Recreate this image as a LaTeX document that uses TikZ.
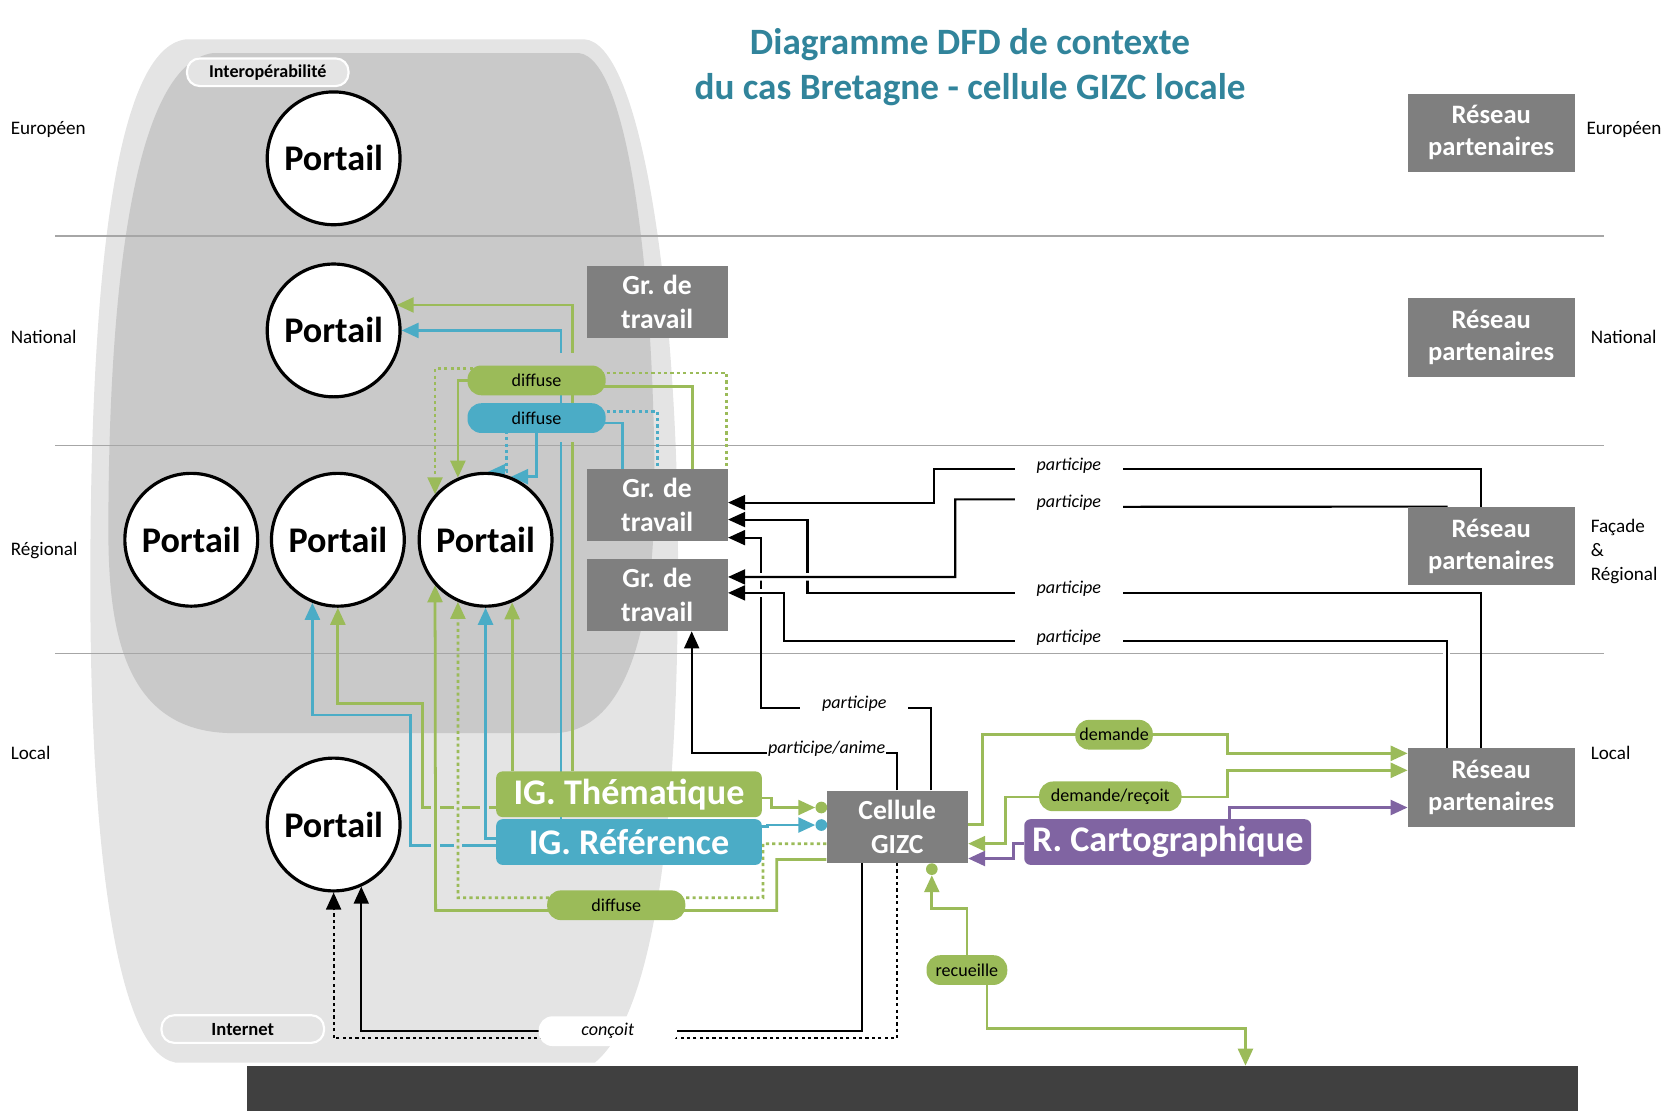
\documentclass[tikz,border=0pt]{standalone}
\usepackage{fontspec}
\setmainfont{Carlito}
\usetikzlibrary{arrows.meta}
\definecolor{igc}{HTML}{9BBB59}
\definecolor{ibc}{HTML}{4BACC6}
\definecolor{ipc}{HTML}{8064A2}
\definecolor{boxg}{HTML}{7F7F7F}
\definecolor{titlec}{HTML}{31849B}
\definecolor{outerg}{HTML}{E4E4E4}
\definecolor{innerg}{HTML}{C9C9C9}
\definecolor{barg}{HTML}{404040}
\definecolor{lvlg}{HTML}{A6A6A6}
\pgfdeclarelayer{back}
\pgfdeclarelayer{edges}
\pgfsetlayers{back,edges,main}
\newcommand\fsz[2]{\fontsize{#1}{#2}\selectfont}
\begin{document}
\begin{tikzpicture}[x=1pt,y=-1pt,
  portail/.style={circle,draw=black,line width=3pt,fill=white,minimum size=125pt,inner sep=0pt,font=\bfseries\fsz{34}{40}},
  gbox/.style={fill=boxg,text=white,align=center,inner sep=0pt,minimum width=133pt,minimum height=68pt,font=\bfseries\fsz{26}{32}},
  rbox/.style={fill=boxg,text=white,align=center,inner sep=0pt,minimum width=157pt,minimum height=74pt,font=\bfseries\fsz{25}{30}},
  igbox/.style={rounded corners=6pt,text=white,inner sep=0pt,minimum height=43pt,font=\bfseries\fsz{34}{40}},
  pill/.style={rounded corners=13pt,fill=igc,inner sep=0pt,minimum height=28pt,font=\fsz{17}{20}},
  plab/.style={fill=white,inner sep=0pt,minimum height=22pt,font=\itshape\fsz{17}{20}},
  tag/.style={rounded corners=12pt,draw=white,line width=2pt,fill=outerg,inner sep=0pt,minimum height=26pt,font=\bfseries\fsz{17}{20}},
  lvl/.style={anchor=west,font=\fsz{18}{23},align=left,inner sep=0pt},
  dott/.style={circle,inner sep=0pt,minimum size=11pt},
  gl/.style={draw=igc,line width=2.6pt},
  bl/.style={draw=ibc,line width=2.6pt},
  pl/.style={draw=ipc,line width=2.6pt},
  kl/.style={draw=black,line width=2pt},
  dotl/.style={dash pattern=on 3pt off 3pt},
  ctip/.style={-{Triangle[length=16pt,width=14pt]}},
  cboth/.style={{Triangle[length=16pt,width=14pt]}-{Triangle[length=16pt,width=14pt]}},
  ktip/.style={-{Triangle[length=16pt,width=14pt]}},
  halo/.style={preaction={draw=white,line width=7pt,-}}
]
\useasboundingbox (0,0) rectangle (1568,1045);

% ---------- background ----------
\begin{pgfonlayer}{back}
\fill[outerg] (175,37) -- (550,37) .. controls (600,40) and (635,250) .. (638,500)
  .. controls (640,750) and (620,950) .. (560,1000) -- (165,1000)
  .. controls (110,990) and (85,800) .. (85,550) .. controls (85,250) and (110,45) .. (175,37) -- cycle;
\fill[innerg] (200,50) -- (545,50) .. controls (590,55) and (615,250) .. (616,450)
  .. controls (617,560) and (600,690) .. (520,690) -- (220,690)
  .. controls (120,690) and (102,600) .. (102,500) .. controls (102,250) and (130,60) .. (200,50) -- cycle;
\draw[lvlg,line width=1.3pt] (52,222) -- (1510,222);
\draw[lvlg,line width=1.3pt] (52,419) -- (1510,419);
\draw[lvlg,line width=1.3pt] (52,615) -- (1510,615);
\end{pgfonlayer}

% ---------- nodes ----------
\node[font=\bfseries\fsz{35}{42},text=titlec,align=center] (title) at (913,63) {Diagramme DFD de contexte\\du cas Bretagne - cellule GIZC locale};

\node[lvl] (lvEUl) at (10,122) {Européen};
\node[lvl] (lvNAl) at (10,317) {National};
\node[lvl] (lvREl) at (10,518) {Régional};
\node[lvl] (lvLOl) at (10,709) {Local};
\node[lvl] (lvEUr) at (1493,122) {Européen};
\node[lvl] (lvNAr) at (1497,317) {National};
\node[lvl] (lvREr) at (1497,519) {Façade\\\&\\Régional};
\node[lvl] (lvLOr) at (1497,709) {Local};

\node[tag,minimum width=152pt] (interop) at (252,68) {Interopérabilité};
\node[tag,minimum width=153pt,font=\bfseries\fsz{17.5}{20}] (inet) at (228.5,968.5) {Internet};

\node[portail] (pEU) at (314,149) {Portail};
\node[portail] (pNA) at (314,311) {Portail};
\node[portail] (pR1) at (180,508) {Portail};
\node[portail] (pR2) at (318,508) {Portail};
\node[portail] (pR3) at (457,508) {Portail};
\node[portail] (pLO) at (314,776) {Portail};

\node[gbox] (grNA) at (618.5,284) {Gr. de\\travail};
\node[gbox] (grA) at (618.5,475.5) {Gr. de\\travail};
\node[gbox] (grB) at (618.5,560) {Gr. de\\travail};
\node[gbox] (cell) at (844.5,778) {Cellule\\GIZC};

\node[rbox] (rEU) at (1403.5,125) {Réseau\\partenaires};
\node[rbox] (rNA) at (1403.5,317.5) {Réseau\\partenaires};
\node[rbox] (rRE) at (1403.5,514) {Réseau\\partenaires};
\node[rbox] (rLO) at (1403.5,741) {Réseau\\partenaires};

\node[igbox,fill=igc,minimum width=250pt] (igt) at (592,747.5) {IG. Thématique};
\node[igbox,fill=ibc,minimum width=250pt] (igr) at (592,792.5) {IG. Référence};
\node[igbox,fill=ipc,minimum width=270pt] (rcar) at (1099,792.5) {R. Cartographique};

\node[pill,fill=igc,minimum width=130pt] (dG) at (505,358) {diffuse};
\node[pill,fill=ibc,minimum width=130pt] (dB) at (505,393.5) {diffuse};
\node[pill,fill=igc,minimum width=130pt] (dL) at (580,852) {diffuse};
\node[pill,fill=igc,minimum width=73pt] (dem) at (1048.5,691.5) {demande};
\node[pill,fill=igc,minimum width=134pt] (demr) at (1045,749.5) {demande/reçoit};
\node[pill,fill=igc,minimum width=76pt] (rec) at (910,913) {recueille};
\node[pill,fill=white,minimum width=130pt,font=\itshape\fsz{17}{20}] (conc) at (572,970.5) {conçoit};

\node[dott,fill=igc] (gdot) at (773,760) {};
\node[dott,fill=ibc] (bdot) at (773,776.5) {};
\node[dott,fill=igc] (rdot) at (877,818) {};

\node[plab,minimum width=101pt] (l1) at (1006,438) {participe};
\node[plab,minimum width=101pt] (l2) at (1006,473) {participe};
\node[plab,minimum width=101pt] (l3) at (1006,554) {participe};
\node[plab,minimum width=101pt] (l4) at (1006,600) {participe};
\node[plab,minimum width=102pt] (l5) at (804,662) {participe};
\node[plab,inner xsep=1pt] (l6) at (778,705) {participe/anime};

\node[fill=barg,inner sep=0pt,minimum width=1253pt,minimum height=42pt,anchor=north west] (bar) at (232,1003) {};

% ---------- connectors ----------
\begin{pgfonlayer}{edges}
% IG -> national portal (behind pills)
\draw[gl,ctip] ([xshift=-53pt]igt.north) |- (pNA.22);
\draw[bl,ctip] ([xshift=-64pt]igr.north) |- (pNA.east);
\fill[innerg] (523,332) rectangle (544,344);
\fill[innerg] (523,407) rectangle (544,416);
% diffuse (green, top)
\draw[gl,ctip] (dG.center) -| (pR3.114);
\draw[gl,dotl,ctip] ([yshift=11pt]dG.center) -| (pR3.138);
\draw[gl,dotl] ([yshift=7pt]dG.center) -| ([xshift=65.5pt]grA.north);
\draw[gl] ([yshift=-6pt]dG.center) -| ([xshift=33.5pt]grA.north);
% diffuse (blue)
\draw[bl,dotl] ([yshift=6.5pt]dB.center) -| (grA.north);
\draw[bl] ([yshift=-4.5pt]dB.center) -| ([xshift=-32.5pt]grA.north);
\draw[bl,dotl,ctip] ([xshift=-28pt]dB.center) |- (pR3.88);
\draw[bl,ctip] (dB.center) |- (pR3.68);
% IG -> regional portals
\draw[gl,ctip] (pR3.293 |- igt.north) -- (pR3.293);
\draw[gl,ctip] ([yshift=-12.5pt]igt.west) -| (398,662) -| (pR2.south);
\draw[bl,ctip] ([yshift=-3.5pt]igr.west) -| (386,673) -| (pR2.248);
\foreach \px/\py in {410/760,431/760,456/760,410/796,431/796}
  \fill[outerg] (\px-4,\py-3.5) rectangle (\px+4,\py+3.5);
\draw[bl,ctip] ([yshift=3.5pt]igr.west) -| (pR3.south);
% cellule -> diffuse (bottom) -> portal R3
\draw[gl,ctip] ([yshift=-31pt]cell.west) -- (731,809) |- (410,857) -- (pR3.222);
\draw[gl,dotl,ctip] ([yshift=-16pt]cell.west) -- (718,794) |- (431,845) -- (pR3.246);
% IG -> cellule
\draw[gl,ctip] ([yshift=-3.5pt]igt.east) -- ++(9,0) |- (gdot);
\draw[bl,ctip] ([yshift=14.5pt]igr.east) -- ++(5,0) |- (bdot);
% cellule <-> reseau local
\draw[gl,ctip] ([yshift=2pt]cell.east) -- (925,776) |- (1155,691) |- ([yshift=32pt]rLO.west);
\draw[gl,cboth] ([yshift=-16pt]cell.east) -- (946,794) |- (1155,750) |- ([yshift=16pt]rLO.west);
\draw[pl,ctip] ([yshift=-1.5pt]rcar.west) -- (954,794) |- ([yshift=-30pt]cell.east);
\draw[pl,ctip] ([xshift=58pt]rcar.north) |- ([yshift=-19pt]rLO.west);
% recueille
\draw[gl,ctip] (rec.north) |- (877,855) -- (rdot);
\draw[gl,ctip] ([xshift=19pt]rec.south) -- (929,968) -| ([xshift=313.5pt]bar.north);
% black: participe
\draw[kl,ktip] ([xshift=-10pt]rRE.north) |- (879,441) |- ([yshift=2.5pt]grA.east);
\draw[kl,ktip] ([xshift=-10pt]rLO.north) |- (760,558) |- ([yshift=-13.5pt]grA.east);
\draw[kl,ktip] ([xshift=31.5pt]cell.north) |- (716,666) |- ([yshift=-30.5pt]grA.east);
\draw[kl,ktip,halo] ([xshift=-41pt]rRE.north) -- (1057,477) -- (956,470) -| (899,543) -- ([yshift=17pt]grB.east);
\draw[kl,ktip,halo] ([xshift=-42pt]rLO.north) |- (738,603) |- ([yshift=2pt]grB.east);
\draw[kl,ktip] (cell.north) |- (651,709) -- ([xshift=32.5pt]grB.south);
% black: concoit
\draw[kl,ktip] ([xshift=-33pt]cell.south) -- ++(0,158) -| (pLO.294);
\draw[kl,dotl,ktip] (cell.south) -- ++(0,165) -| (pLO.south);
\end{pgfonlayer}
\end{tikzpicture}
\end{document}
